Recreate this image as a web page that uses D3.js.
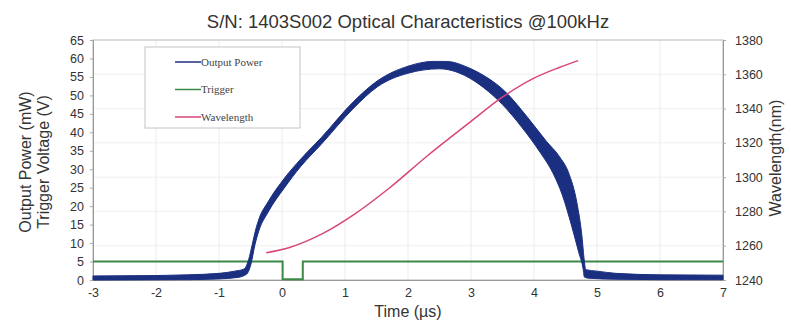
<!DOCTYPE html>
<html>
<head>
<meta charset="utf-8">
<script src="https://cdn.jsdelivr.net/npm/d3@7"></script>
<style>
  body { margin: 0; background: #fff; }
  svg text { font-family: "Liberation Sans", Arial, sans-serif; fill: #222; }
</style>
</head>
<body>
<svg id="chart" width="791" height="324"></svg>
<script>
// Output power drawn as a noisy band: upper edge (left to right), lower edge (right to left)
const powerOuterT = [-3, -2, -1.5, -1, -0.75, -0.6, -0.53, -0.47, -0.42, -0.36, -0.22, 0.04, 0.3, 0.62, 1.14, 1.52, 2.0, 2.4, 2.6, 3.0, 3.21, 3.52, 3.9, 4.2, 4.4, 4.55, 4.68, 4.76, 4.8, 4.82, 5.0, 5.3, 6, 7];
const powerOuterP = [1.1, 1.2, 1.4, 1.8, 2.4, 3.0, 5.5, 9.8, 13.5, 16.8, 21.2, 27.6, 32.8, 38.5, 48.4, 54.0, 57.9, 59.2, 59.2, 57.2, 55.3, 51.4, 44, 37.5, 33.5, 29, 21, 12, 5, 2.8, 2.4, 1.8, 1.4, 1.3];
const powerInnerT = [7, 6, 5.3, 4.86, 4.8, 4.78, 4.71, 4.6, 4.45, 4.3, 4.1, 3.8, 3.5, 3.2, 2.9, 2.5, 2.0, 1.52, 1.14, 0.62, 0.3, 0.04, -0.22, -0.37, -0.43, -0.49, -0.56, -0.7, -1, -1.5, -3];
const powerInnerP = [0.1, 0.1, 0.2, 0.5, 0.8, 3, 7.5, 14.5, 23, 29, 34.5, 41.5, 47.5, 52.1, 55.4, 57.2, 56.0, 52.4, 46.6, 36.7, 30.8, 25.0, 18.4, 13.2, 9.5, 4.5, 1.6, 0.7, 0.3, 0.1, 0.0];

// Trigger voltage (square pulse)
const triggerT = [-3, 0.01, 0.01, 0.33, 0.33, 7];
const triggerV = [5.0, 5.0, 0.2, 0.2, 5.0, 5.0];

// Wavelength (right axis)
const waveT = [-0.25, 0.12, 0.65, 1.17, 1.70, 2.29, 3.0, 3.48, 4.0, 4.4, 4.7];
const waveNm = [1255.9, 1259, 1267.2, 1278.9, 1293.5, 1311.9, 1332.5, 1346.2, 1357.8, 1364, 1368];

const xTicks = [-3, -2, -1, 0, 1, 2, 3, 4, 5, 6, 7];
const yLeftTicks = [0, 5, 10, 15, 20, 25, 30, 35, 40, 45, 50, 55, 60, 65];
const yRightTicks = [1240, 1260, 1280, 1300, 1320, 1340, 1360, 1380];
const legendNames = ['Output Power', 'Trigger', 'Wavelength'];
const legendColors = ['#1b2f80', '#3c8a46', '#d8457c'];

const plotL = 93, plotR = 723, plotT = 40, plotB = 280;
const svg = d3.select('#chart');

const x = d3.scaleLinear().domain([-3, 7]).range([plotL, plotR]);
const yL = d3.scaleLinear().domain([0, 65]).range([plotB, plotT]);
const yR = d3.scaleLinear().domain([1240, 1380]).range([plotB, plotT]);

// faint grid
svg.append('g')
  .selectAll('line')
  .data(xTicks.slice(1, -1))
  .enter().append('line')
  .attr('x1', d => x(d)).attr('x2', d => x(d))
  .attr('y1', plotT).attr('y2', plotB)
  .attr('stroke', '#ececec').attr('stroke-width', 1);
svg.append('g')
  .selectAll('line')
  .data(yRightTicks.slice(1, -1))
  .enter().append('line')
  .attr('x1', plotL).attr('x2', plotR)
  .attr('y1', d => yR(d)).attr('y2', d => yR(d))
  .attr('stroke', '#f0f0f0').attr('stroke-width', 1);

// frame
svg.append('rect')
  .attr('x', plotL).attr('y', plotT)
  .attr('width', plotR - plotL).attr('height', plotB - plotT)
  .attr('fill', 'none').attr('stroke', '#b5b5b5').attr('stroke-width', 1);

// axes (plain hyphen minus, no thousands separator)
const plain = d => String(d);
const axisBottom = d3.axisBottom(x).tickValues(xTicks).tickSize(0).tickPadding(8).tickFormat(plain);
const axisLeft = d3.axisLeft(yL).tickValues(yLeftTicks).tickSize(3).tickPadding(6).tickFormat(plain);
const axisRight = d3.axisRight(yR).tickValues(yRightTicks).tickSize(3).tickPadding(9).tickFormat(plain);

function styleAxis(g) {
  g.select('.domain').attr('stroke', '#999');
  g.selectAll('.tick line').attr('stroke', '#aaa');
  g.selectAll('.tick text').style('font-size', '12.5px').style('fill', '#333')
    .style('font-family', '"Liberation Sans", Arial, sans-serif');
}
svg.append('g').attr('transform', `translate(0,${plotB})`).call(axisBottom).call(styleAxis);
svg.append('g').attr('transform', `translate(${plotL},0)`).call(axisLeft).call(styleAxis);
svg.append('g').attr('transform', `translate(${plotR},0)`).call(axisRight).call(styleAxis);

// trigger
const trigLine = d3.line().x((d, i) => x(triggerT[i])).y(d => yL(d));
svg.append('path')
  .attr('d', trigLine(triggerV))
  .attr('fill', 'none').attr('stroke', legendColors[1]).attr('stroke-width', 2);

// power band: both edges smoothed, joined into one closed shape
const band = d3.path();
d3.line().x(d => x(d[0])).y(d => yL(d[1])).curve(d3.curveMonotoneX).context(band)(
  powerOuterT.map((t, i) => [t, powerOuterP[i]]));
const joinCtx = {
  moveTo: (a, b) => band.lineTo(a, b),
  lineTo: (a, b) => band.lineTo(a, b),
  bezierCurveTo: (a, b, c, d, e, f) => band.bezierCurveTo(a, b, c, d, e, f),
  closePath: () => {}
};
d3.line().x(d => x(d[0])).y(d => yL(d[1])).curve(d3.curveMonotoneX).context(joinCtx)(
  powerInnerT.map((t, i) => [t, powerInnerP[i]]));
band.closePath();
svg.append('path')
  .attr('d', band.toString())
  .attr('fill', legendColors[0]).attr('stroke', legendColors[0])
  .attr('stroke-width', 1).attr('stroke-linejoin', 'round');

// wavelength
const waveLine = d3.line().x((d, i) => x(waveT[i])).y(d => yR(d)).curve(d3.curveMonotoneX);
svg.append('path')
  .attr('d', waveLine(waveNm))
  .attr('fill', 'none').attr('stroke', legendColors[2]).attr('stroke-width', 1.5);

// legend
const lg = svg.append('g');
lg.append('rect')
  .attr('x', 145).attr('y', 47).attr('width', 155).attr('height', 81)
  .attr('fill', '#fff').attr('stroke', '#c4c4c4').attr('stroke-width', 1);
const rows = lg.selectAll('g.row')
  .data(legendNames)
  .enter().append('g')
  .attr('class', 'row')
  .attr('transform', (d, i) => `translate(0,${62 + i * 27.5})`);
rows.append('line')
  .attr('x1', 175).attr('x2', 201).attr('y1', 0).attr('y2', 0)
  .attr('stroke', (d, i) => legendColors[i]).attr('stroke-width', 1.5);
rows.append('text')
  .attr('x', 201).attr('y', 3.5)
  .style('font-family', '"Liberation Serif", "Times New Roman", serif')
  .style('font-size', '11px').style('fill', '#444')
  .text(d => d);

// titles
svg.append('text')
  .attr('x', 408).attr('y', 28).attr('text-anchor', 'middle')
  .style('font-size', '18.5px').style('fill', '#333')
  .text('S/N: 1403S002 Optical Characteristics @100kHz');
svg.append('text')
  .attr('x', 408).attr('y', 317).attr('text-anchor', 'middle')
  .style('font-size', '16px').style('fill', '#333')
  .text('Time (µs)');
svg.append('text')
  .attr('transform', 'translate(31,162) rotate(-90)').attr('text-anchor', 'middle')
  .style('font-size', '16px').style('fill', '#333')
  .text('Output Power (mW)');
svg.append('text')
  .attr('transform', 'translate(49,162) rotate(-90)').attr('text-anchor', 'middle')
  .style('font-size', '16px').style('fill', '#333')
  .text('Trigger Voltage (V)');
svg.append('text')
  .attr('transform', 'translate(781,158) rotate(-90)').attr('text-anchor', 'middle')
  .style('font-size', '16px').style('fill', '#333')
  .text('Wavelength(nm)');
</script>
</body>
</html>
